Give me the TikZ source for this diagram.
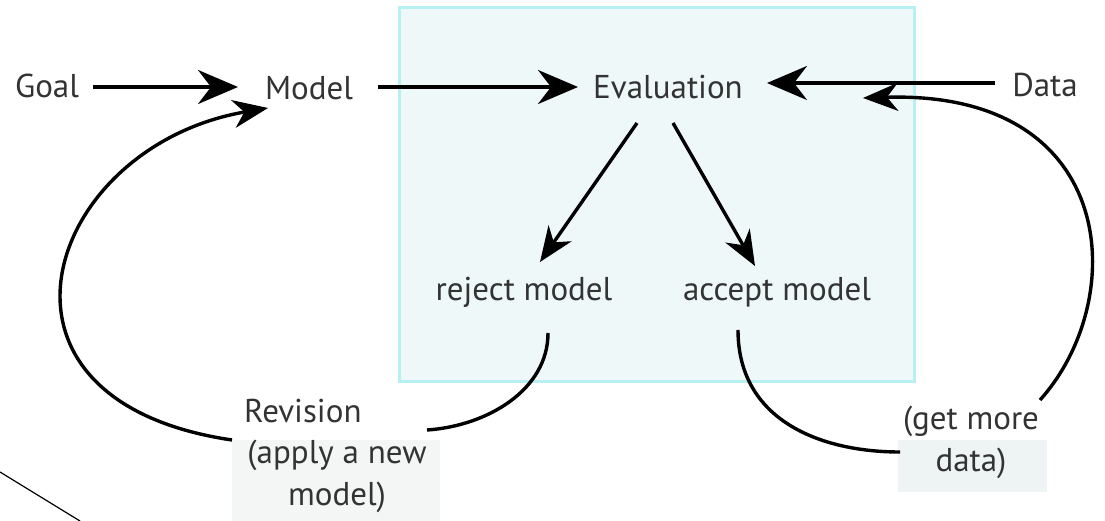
\documentclass[tikz,border=0pt]{standalone}
\usepackage{fontspec}
\setmainfont{PT Sans}
\usetikzlibrary{arrows.meta,calc}
\definecolor{boxfill}{HTML}{EEF8F9}
\definecolor{boxline}{HTML}{B6F0F2}
\definecolor{notegray}{HTML}{F4F5F5}
\definecolor{notecyan}{HTML}{EEF4F4}
\definecolor{txt}{HTML}{333333}
\begin{document}
\begin{tikzpicture}[x=1pt,y=-1pt,
  lbl/.style={inner sep=0pt,text=txt,font=\fontsize{33}{42}\selectfont},
  conn/.style={line width=3.4pt,black},
  bigarr/.style={conn,-{Stealth[length=40pt,width=34pt,inset=13pt]}},
  smallarr/.style={conn,-{Stealth[length=35pt,width=28pt,inset=11pt]}}]
\useasboundingbox (0,0) rectangle (1105,521);
% box
\node[draw=boxline,fill=boxfill,line width=3pt,minimum width=515pt,minimum height=374pt,inner sep=0pt] (box) at (656.5,194.5) {};
% backgrounds of the two notes
\node[fill=notegray,minimum width=208pt,minimum height=81pt,inner sep=0pt] (revbg) at (336,480.5) {};
\node[fill=notecyan,minimum width=149pt,minimum height=52pt,inner sep=0pt] (getbg) at (972,466) {};
% nodes
\node[lbl] (goal) at (47,86) {Goal};
\node[lbl] (model) at (309,88) {Model};
\node[lbl] (eval) at (668,87) {Evaluation};
\node[lbl] (data) at (1045,85) {Data};
\node[lbl] (reject) at (524,292) {reject model};
\node[lbl] (accept) at (777,292) {accept model};
\node[lbl,anchor=west] (revision) at (244,411) {Revision};
\node[lbl,align=center] (revnote) at (337,476) {(apply a new\\model)};
\node[lbl,align=center] (getmore) at (971,442) {(get more\\data)};
% straight arrows
\draw[bigarr] ($(goal)+(46,1)$) -- ($(model)+(-71,-1)$);
\draw[bigarr] ($(model)+(69,-1)$) -- ($(eval)+(-90,0)$);
\draw[bigarr] ($(data)+(-50,-2)$) -- ($(eval)+(99,-4)$);
\draw[smallarr] ($(eval)+(-31,36)$) -- ($(reject)+(16,-30)$);
\draw[smallarr] ($(eval)+(5,36)$) -- ($(accept)+(-22,-26)$);
% curves
\draw[conn] ($(reject)+(24,41)$) .. controls +(0,57) and +(60,-4) .. ($(revnote)+(90,-46)$);
\draw[smallarr] ($(revnote)+(-105,-36)$) .. controls +(-272,-40) and +(-222,38) .. ($(model)+(-41,20)$);
\draw[conn] ($(accept)+(-39,38)$) .. controls +(0,90) and +(-80,0) .. ($(getmore)+(-71,10)$);
\draw[smallarr] ($(getmore)+(69,-42)$) .. controls +(90,-100) and +(257,-8) .. ($(eval)+(195,11)$);
% stray diagonal line
\draw[line width=1.2pt] (0,472) -- (80,521);
\end{tikzpicture}
\end{document}
